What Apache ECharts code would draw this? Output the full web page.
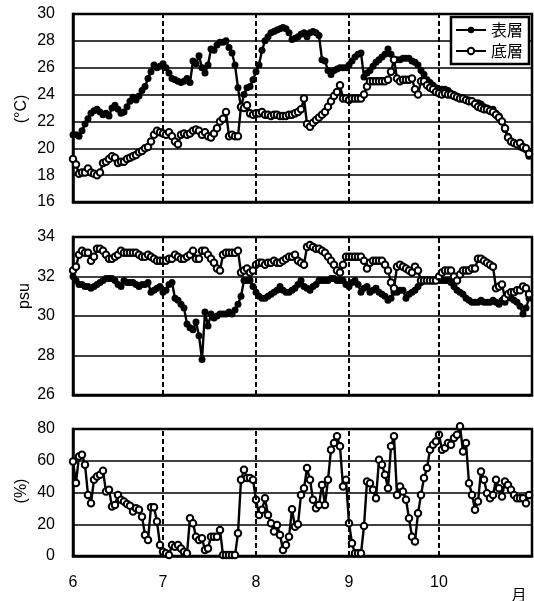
<!DOCTYPE html>
<html><head><meta charset="utf-8">
<script src="https://cdn.jsdelivr.net/npm/echarts@6.0.0/dist/echarts.min.js"></script>
<style>html,body{margin:0;padding:0;background:#fff}#c{width:534px;height:601px}</style>
</head><body><div id="c"></div>
<script>
// x = day index from 1 June (0) to 31 Oct (152)
const monthTicks = [0, 30, 61, 92, 122];
const monthLabels = ['6', '7', '8', '9', '10'];
const seriesNames = ['表層', '底層'];

const tempSurface = [
 21.0,21.0,20.9,21.3,21.8,22.2,22.6,22.8,22.9,22.7,
 22.5,22.6,22.4,23.0,23.2,22.9,22.6,22.7,23.1,23.5,
 23.8,23.6,23.9,24.3,24.6,25.2,25.7,26.2,26.0,26.1,
 26.3,26.0,25.6,25.2,25.1,25.0,24.9,25.0,25.2,24.9,
 26.5,26.3,26.9,26.0,25.6,26.2,27.4,27.3,27.7,27.9,
 27.9,28.0,27.5,27.1,26.2,24.5,23.0,24.0,24.5,24.6,
 25.1,25.7,26.2,27.3,28.0,28.3,28.6,28.7,28.8,28.9,
 29.0,28.9,28.6,28.1,28.2,28.3,28.5,28.6,28.3,28.6,
 28.7,28.6,28.4,26.6,26.5,25.8,25.5,25.8,25.9,26.0,
 26.0,26.0,26.2,26.5,26.8,27.0,27.1,25.3,25.6,25.8,
 26.1,26.4,26.6,26.8,27.0,27.4,27.0,26.6,26.6,26.6,
 26.7,26.7,26.7,26.5,26.4,26.2,25.8,25.5,25.1,24.9,
 24.7,24.5,24.4,24.4,24.4,24.3,24.1,24.0,23.9,23.8,
 23.7,23.6,23.6,23.5,23.4,23.4,23.3,23.1,23.0,22.9,
 22.9,22.6,22.4,22.0,21.4,20.9,20.5,20.4,20.3,20.1,
 20.0,19.9,19.4];
const tempBottom = [
 19.2,18.8,18.1,18.2,18.2,18.5,18.2,18.1,18.0,18.2,
 18.9,19.0,19.2,19.4,19.3,18.9,19.0,19.0,19.2,19.3,
 19.4,19.5,19.7,19.8,20.0,20.1,20.5,21.0,21.3,21.2,
 21.1,21.0,21.2,20.9,20.5,20.3,21.0,21.1,21.0,21.1,
 21.3,21.4,21.3,21.0,21.2,20.9,20.8,21.1,21.5,22.0,
 22.2,22.7,20.9,21.0,20.9,20.9,23.1,23.0,23.2,22.6,
 22.5,22.6,22.6,22.7,22.5,22.5,22.4,22.5,22.5,22.4,
 22.4,22.4,22.5,22.5,22.6,22.7,22.9,23.7,21.8,21.6,
 21.9,22.1,22.3,22.5,22.7,23.1,23.5,23.9,24.2,24.7,
 23.7,23.7,23.6,23.7,23.7,23.7,23.7,24.0,24.6,25.0,
 25.0,25.0,25.0,25.0,25.0,25.1,25.7,26.6,25.2,25.0,
 25.1,25.1,25.1,25.2,24.4,24.0,25.0,25.0,24.7,24.5,
 24.4,24.2,24.1,24.0,24.1,24.0,24.0,23.9,23.8,23.7,
 23.7,23.6,23.5,23.5,23.3,23.1,23.0,22.9,22.9,22.8,
 22.7,22.5,22.3,22.0,21.5,20.8,20.5,20.4,20.3,20.4,
 20.1,20.0,19.6];
const salSurface = [
 32.0,31.8,31.6,31.6,31.5,31.5,31.4,31.5,31.6,31.7,
 31.8,31.9,31.9,31.9,31.8,31.6,31.5,31.8,31.7,31.7,
 31.7,31.6,31.5,31.6,31.6,31.7,31.2,31.3,31.4,31.5,
 31.2,31.3,31.6,31.7,30.9,30.8,30.6,30.4,29.6,29.4,
 29.3,29.7,29.0,27.8,30.2,29.5,30.1,29.9,30.0,30.1,
 30.1,30.1,30.2,30.1,30.3,30.6,31.0,31.8,31.8,31.8,
 31.5,31.2,31.0,30.9,30.9,31.0,31.1,31.2,31.3,31.5,
 31.3,31.2,31.2,31.3,31.4,31.6,31.8,31.5,31.4,31.3,
 31.5,31.6,31.8,31.8,31.8,31.8,31.9,31.9,31.8,31.8,
 31.8,31.6,31.5,31.7,31.8,31.6,31.2,31.4,31.5,31.2,
 31.3,31.4,31.2,31.1,31.0,30.8,30.9,31.2,31.2,31.3,
 31.3,30.9,31.1,31.2,31.3,31.5,31.7,31.8,31.8,31.8,
 31.8,31.8,31.8,31.8,31.8,31.8,31.7,31.5,31.3,31.2,
 31.1,30.9,30.8,30.7,30.7,30.7,30.8,30.7,30.7,30.7,
 30.8,30.7,30.6,30.8,30.7,31.0,30.9,30.8,30.7,30.5,
 30.1,30.4,30.9];
const salBottom = [
 32.3,32.5,33.1,33.3,33.2,33.2,32.8,33.0,33.4,33.4,
 33.3,33.1,32.9,32.9,33.0,33.1,33.3,33.2,33.2,33.2,
 33.2,33.2,33.1,33.0,33.0,33.1,33.0,32.9,32.8,32.8,
 32.8,32.8,32.9,32.9,33.1,33.0,32.9,32.9,33.0,33.1,
 33.3,32.9,32.9,33.3,33.3,33.1,32.9,32.7,32.4,32.3,
 33.1,33.2,33.2,33.2,33.2,33.3,32.2,32.3,32.4,32.2,
 32.3,32.6,32.7,32.7,32.6,32.7,32.7,32.8,32.7,32.7,
 32.8,32.9,33.0,33.0,33.1,32.8,32.7,32.6,33.5,33.6,
 33.5,33.4,33.4,33.3,33.2,33.0,32.8,32.6,32.3,32.2,
 32.6,33.0,33.0,33.0,33.0,33.0,33.0,32.8,32.4,32.7,
 32.8,32.8,32.8,32.8,32.6,32.3,31.7,31.4,32.5,32.6,
 32.5,32.4,32.3,32.2,32.5,32.3,31.8,31.8,31.8,31.8,
 31.8,31.8,32.0,32.2,32.3,32.3,32.3,32.0,31.8,32.1,
 32.3,32.3,32.3,32.4,32.4,32.9,32.9,32.8,32.7,32.6,
 32.5,31.4,31.5,31.6,30.9,31.1,31.2,31.2,31.3,31.3,
 31.5,31.4,31.1];
const doBottom = [
 59.6,46.0,62.7,63.8,57.5,38.5,33.3,48.0,50.1,51.2,
 53.7,40.6,41.7,31.2,32.2,38.5,35.4,34.3,32.8,31.6,
 28.0,30.1,29.1,24.8,13.3,10.1,30.7,30.7,21.7,6.9,
 2.7,1.7,0.6,6.9,5.9,6.9,4.8,2.7,1.7,23.8,
 20.6,12.2,10.1,11.2,3.8,4.8,12.2,12.2,12.2,16.4,
 0.6,0.6,0.6,0.6,0.6,14.3,48.0,54.3,49.1,49.1,
 48.0,35.4,25.9,29.1,36.4,25.9,20.6,15.4,19.6,13.3,
 3.8,6.9,12.2,29.5,18.5,20.0,38.5,42.7,55.4,48.0,
 35.4,30.1,32.2,44.8,32.2,48.0,66.9,71.2,75.4,69.1,
 43.8,48.0,20.6,8.0,1.7,1.7,1.7,18.9,46.9,45.9,
 41.7,36.4,60.6,57.5,51.2,42.7,69.1,75.4,38.5,43.8,
 40.6,35.4,23.8,12.2,9.1,26.9,38.5,49.1,55.4,66.9,
 70.1,72.2,76.4,66.9,68.0,71.2,70.1,74.3,76.4,81.7,
 65.9,71.2,45.9,38.5,29.1,34.3,53.3,48.0,39.6,36.4,
 38.5,48.0,42.7,37.5,46.9,44.8,41.7,38.5,36.4,36.4,
 36.4,33.3,38.5];

const FONT = '"Liberation Sans", Arial, sans-serif';
const CJK = '"Noto Sans CJK JP", sans-serif';

function pts(arr) { return arr.map((v, i) => [i, v]); }

function xAxis(i, showLabels) {
  return {
    type: 'value', gridIndex: i, min: 0, max: 153,
    axisLine: { show: true, onZero: false, lineStyle: { color: '#000', width: 2.5 } },
    axisTick: { show: false },
    splitLine: { show: false },
    axisLabel: {
      show: showLabels, customValues: monthTicks,
      formatter: v => monthLabels[monthTicks.indexOf(v)],
      color: '#000', fontSize: 16, fontFamily: FONT, margin: 19
    }
  };
}
function yAxis(i, min, max, interval) {
  return {
    type: 'value', gridIndex: i, min: min, max: max, interval: interval,
    axisLine: { show: true, lineStyle: { color: '#000', width: 2.5 } },
    axisTick: { show: false },
    splitLine: { show: true, lineStyle: { color: '#000', width: 1.5 } },
    axisLabel: { color: '#000', fontSize: 16, fontFamily: FONT, margin: 18 }
  };
}
const filled = {
  type: 'line', symbol: 'circle', symbolSize: 7, showAllSymbol: true,
  itemStyle: { color: '#000' }, lineStyle: { color: '#000', width: 2.4 },
  emphasis: { disabled: true }, animation: false
};
const open = {
  type: 'line', symbol: 'circle', symbolSize: 6.5, showAllSymbol: true,
  itemStyle: { color: '#fff', borderColor: '#000', borderWidth: 2 },
  lineStyle: { color: '#000', width: 2.4 },
  emphasis: { disabled: true }, animation: false
};
function monthLines() {
  return {
    silent: true, symbol: ['none', 'none'], label: { show: false },
    lineStyle: { color: '#000', type: [5, 3], width: 2 },
    data: monthTicks.slice(1).map(v => ({ xAxis: v }))
  };
}
const gridBase = { left: 73, right: 2, show: true, borderColor: '#000', borderWidth: 2.5, backgroundColor: 'transparent' };

const chart = echarts.init(document.getElementById('c'), null, { renderer: 'canvas' });
chart.setOption({
  animation: false,
  backgroundColor: '#fff',
  grid: [
    Object.assign({ top: 14, height: 188 }, gridBase),
    Object.assign({ top: 237, height: 158 }, gridBase),
    Object.assign({ top: 429, height: 127 }, gridBase)
  ],
  xAxis: [xAxis(0, false), xAxis(1, false), xAxis(2, true)],
  yAxis: [yAxis(0, 16, 30, 2), yAxis(1, 26, 34, 2), yAxis(2, 0, 80, 20)],
  legend: {
    left: 451, top: 17, orient: 'vertical', data: seriesNames,
    backgroundColor: '#fff', borderColor: '#000', borderWidth: 2.5,
    padding: [5, 6, 5, 4], itemGap: 5, itemWidth: 30, itemHeight: 8,
    textStyle: { fontSize: 16, fontFamily: CJK, color: '#000' },
    z: 10
  },
  series: [
    Object.assign({}, filled, { name: seriesNames[0], xAxisIndex: 0, yAxisIndex: 0, data: pts(tempSurface), markLine: monthLines() }),
    Object.assign({}, open, { name: seriesNames[1], xAxisIndex: 0, yAxisIndex: 0, data: pts(tempBottom) }),
    Object.assign({}, filled, { name: seriesNames[0], xAxisIndex: 1, yAxisIndex: 1, data: pts(salSurface), markLine: monthLines() }),
    Object.assign({}, open, { name: seriesNames[1], xAxisIndex: 1, yAxisIndex: 1, data: pts(salBottom) }),
    Object.assign({}, open, { name: 'DO', xAxisIndex: 2, yAxisIndex: 2, data: pts(doBottom), clip: false, markLine: monthLines() })
  ],
  graphic: [
    { type: 'text', x: 22, y: 109, rotation: Math.PI / 2,
      style: { text: '(°C)', font: '16px "Liberation Sans", Arial, sans-serif', fill: '#000', textAlign: 'center', textVerticalAlign: 'middle', align: 'center', verticalAlign: 'middle' } },
    { type: 'text', x: 25, y: 296, rotation: Math.PI / 2,
      style: { text: 'psu', font: '16px "Liberation Sans", Arial, sans-serif', fill: '#000', textAlign: 'center', textVerticalAlign: 'middle', align: 'center', verticalAlign: 'middle' } },
    { type: 'text', x: 22, y: 491, rotation: Math.PI / 2,
      style: { text: '(%)', font: '16px "Liberation Sans", Arial, sans-serif', fill: '#000', textAlign: 'center', textVerticalAlign: 'middle', align: 'center', verticalAlign: 'middle' } },
    { type: 'text', x: 519, y: 594,
      style: { text: '月', font: '15px "Noto Sans CJK JP", sans-serif', fill: '#000', textAlign: 'center', textVerticalAlign: 'middle', align: 'center', verticalAlign: 'middle' } }
  ]
});
</script>
</body></html>
